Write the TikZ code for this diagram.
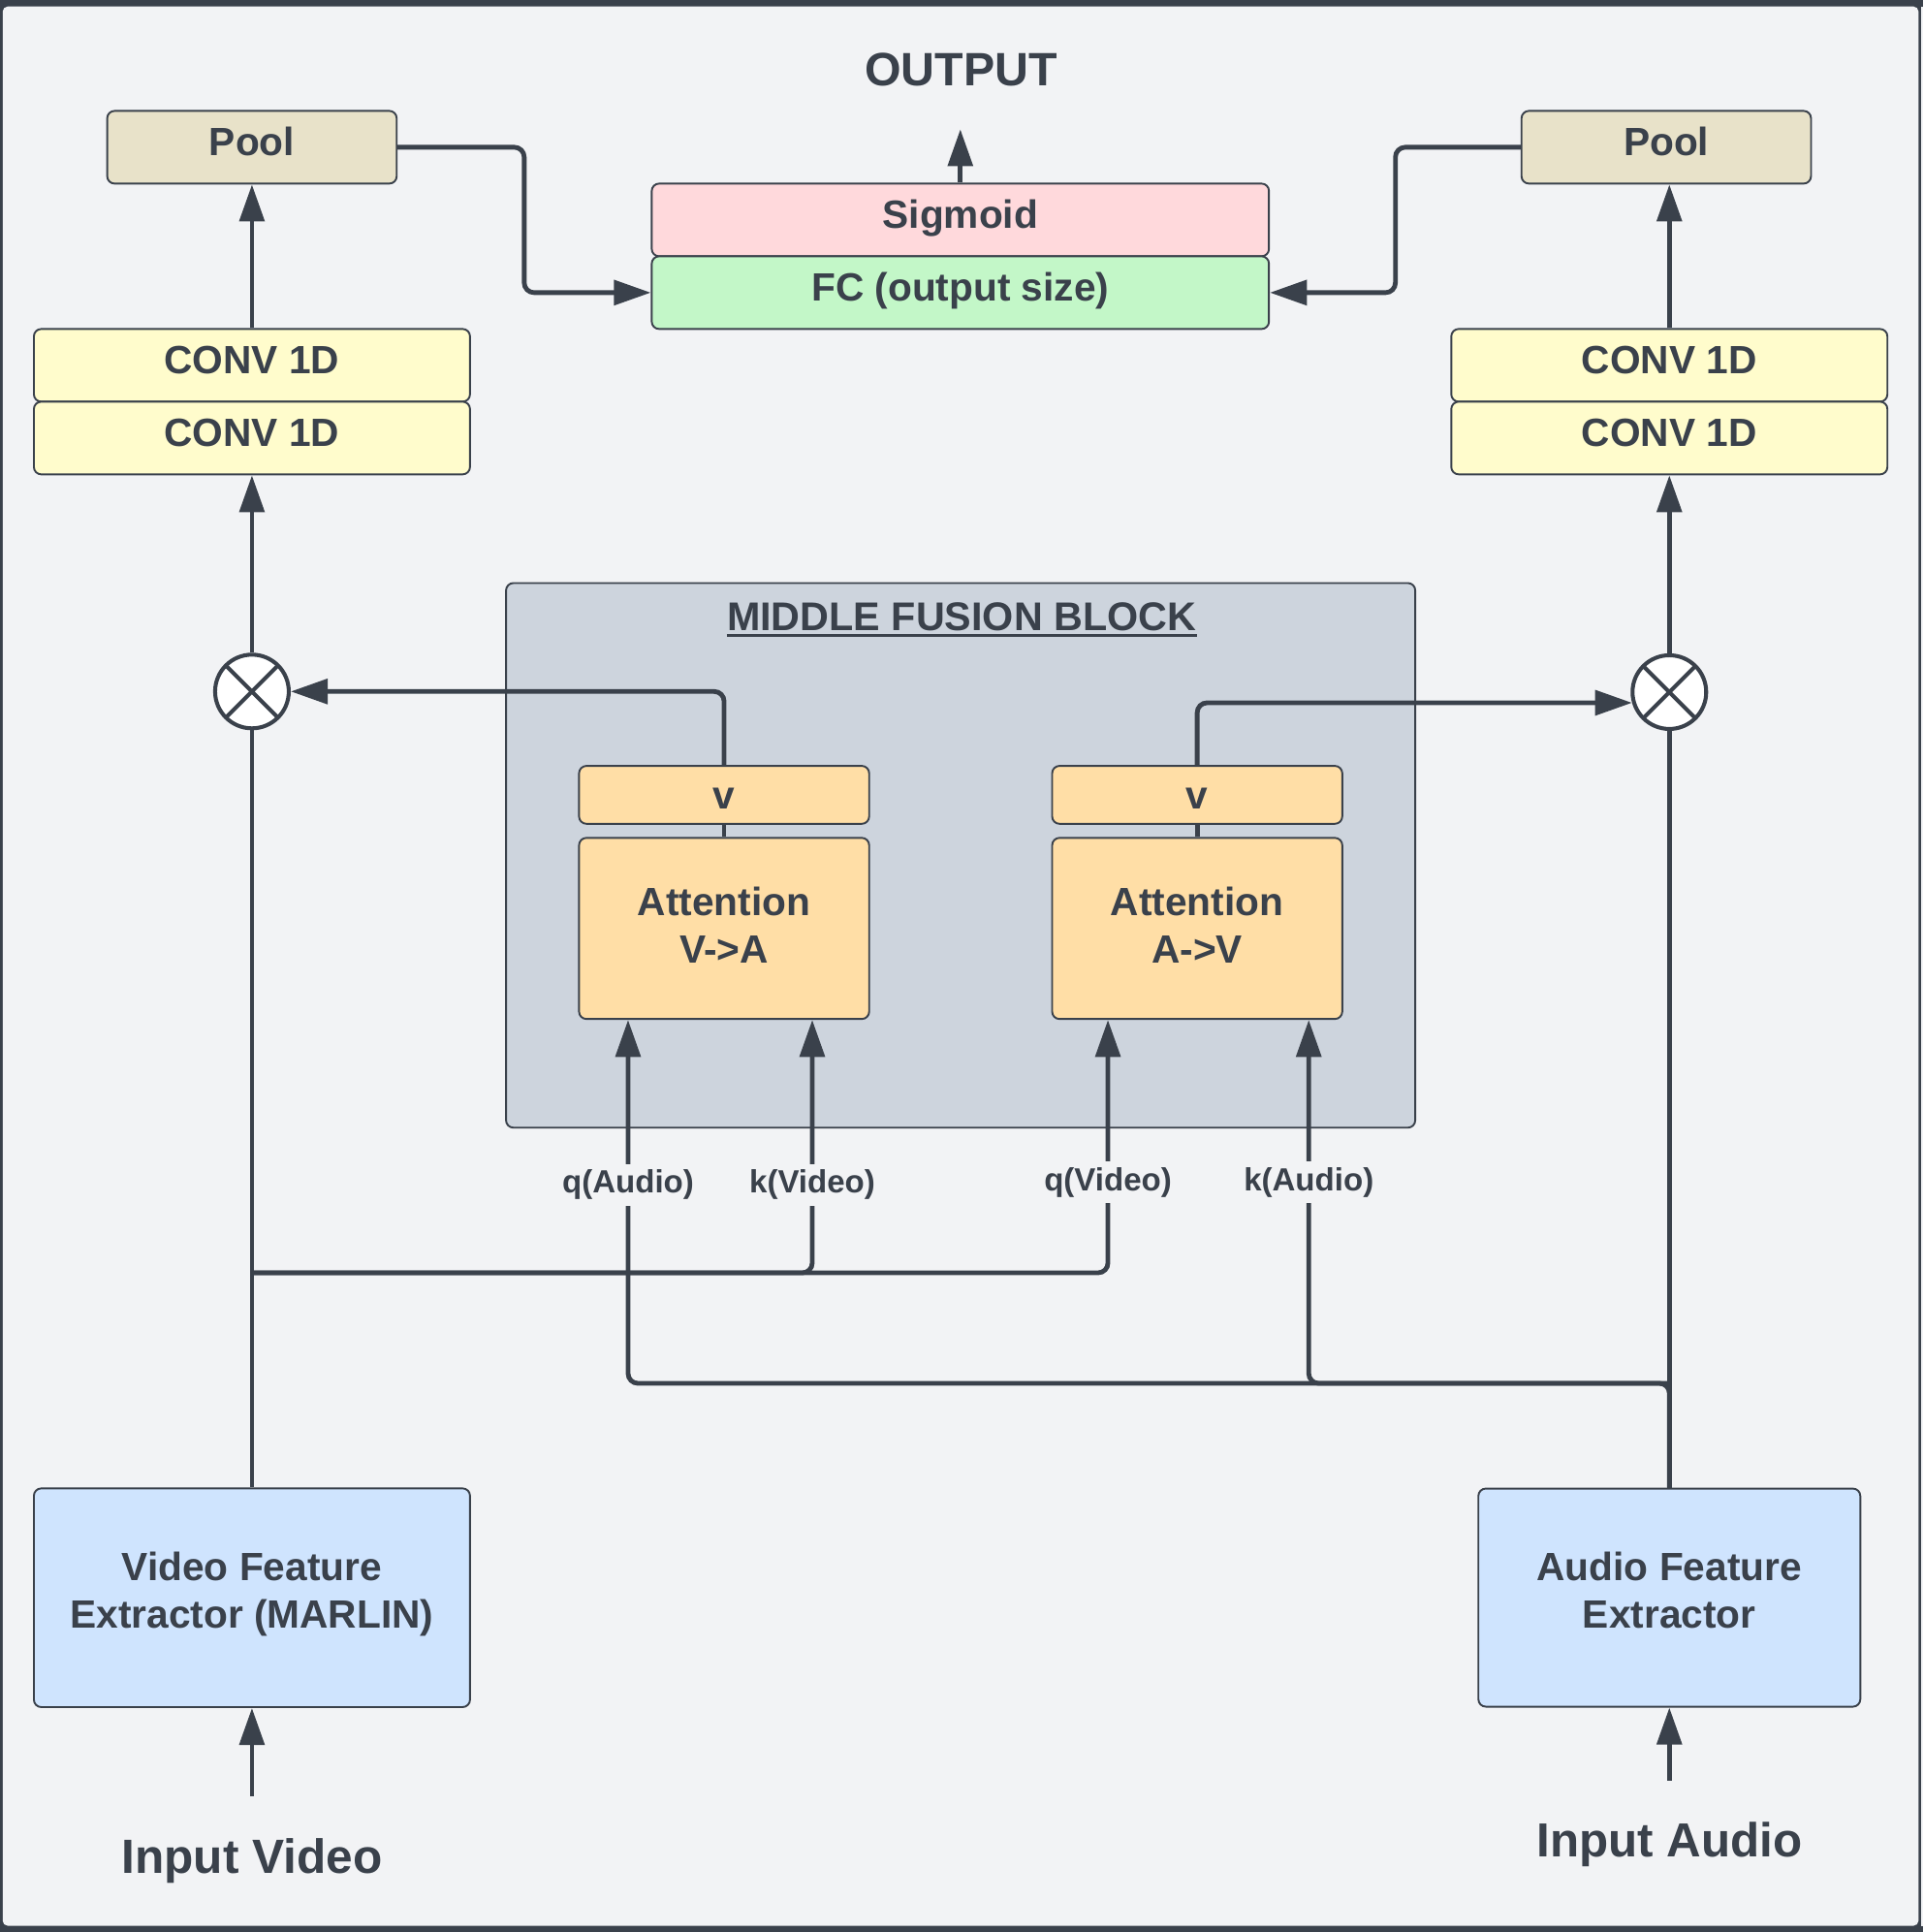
\documentclass[tikz,border=0pt]{standalone}
\usepackage{fontspec}
\setmainfont{Liberation Sans}
\usetikzlibrary{arrows.meta,calc}
\definecolor{ink}{HTML}{3A414B}
\definecolor{bg}{HTML}{F2F3F5}
\definecolor{poolc}{HTML}{E8E2C9}
\definecolor{sigc}{HTML}{FFD9DC}
\definecolor{fcc}{HTML}{C3F7C8}
\definecolor{convc}{HTML}{FFFCCC}
\definecolor{mfbc}{HTML}{CDD4DD}
\definecolor{attc}{HTML}{FFDEA6}
\definecolor{extc}{HTML}{CFE4FE}
\begin{document}
\begin{tikzpicture}[x=1pt,y=-1pt,
  box/.style={draw=ink, line width=1.5pt, rounded corners=6pt, inner sep=0pt,
    font=\fontsize{32}{38.6}\selectfont\bfseries, text=ink, align=center,
    text height=23pt, text depth=9pt},
  conn/.style={draw=ink, line width=3.8pt},
  arr/.style={conn, -{Triangle[length=30pt,width=20pt]}},
  rc/.style={rounded corners=8pt},
  mul/.style={circle, draw=ink, line width=3.2pt, fill=white, minimum size=59.8pt, inner sep=0pt,
    path picture={\draw[ink, line width=3.2pt]
      (path picture bounding box.north east) -- (path picture bounding box.south west)
      (path picture bounding box.north west) -- (path picture bounding box.south east);}},
  lbl/.style={fill=bg, text=ink, font=\fontsize{26}{30}\selectfont\bfseries,
    inner xsep=2pt, inner ysep=5pt, anchor=base},
  big/.style={text=ink, inner sep=0pt, anchor=base}
]
\useasboundingbox (0,0) rectangle (1561,1568);
% frame
\fill[ink] (0,0) rectangle (1561,1568);
\fill[bg] (1559.2,5.3) rectangle (1561,1562.9);
\fill[bg, rounded corners=4pt] (2.2,5.3) rectangle (1557.2,1562.9);

% middle fusion block
\node[draw=ink, fill=mfbc, line width=1.5pt, rounded corners=6pt, minimum width=738pt, minimum height=442pt, inner sep=0pt] (mfb) at (779.75,694.2) {};
\node[big, font=\fontsize{32.5}{38}\selectfont\bfseries] (mfbt) at (780.6,511.5) {MIDDLE FUSION BLOCK};
\draw[ink, line width=2.4pt] ([yshift=-4pt]mfbt.base west) -- ([yshift=-4pt]mfbt.base east);

% top
\node[big, font=\fontsize{38}{44}\selectfont\bfseries] (out) at (780,69.3) {OUTPUT};
\coordinate (outtip) at (779.5,104.9);
\node[box, fill=poolc, minimum width=235pt, minimum height=59pt] (poolL) at (204.5,119.5) {Pool};
\node[box, fill=poolc, minimum width=235pt, minimum height=59pt] (poolR) at (1352.5,119.5) {Pool};
\node[box, fill=sigc, minimum width=501pt, minimum height=59pt] (sig) at (779.5,178.5) {Sigmoid};
\node[box, fill=fcc, minimum width=501pt, minimum height=59pt] (fc) at (779.5,237.5) {FC (output size)};

% conv stacks
\node[box, fill=convc, minimum width=354pt, minimum height=59pt] (convLa) at (204.5,296.5) {CONV 1D};
\node[box, fill=convc, minimum width=354pt, minimum height=59pt] (convLb) at (204.5,355.5) {CONV 1D};
\node[box, fill=convc, minimum width=354pt, minimum height=59pt] (convRa) at (1355,296.5) {CONV 1D};
\node[box, fill=convc, minimum width=354pt, minimum height=59pt] (convRb) at (1355,355.5) {CONV 1D};

% multipliers
\node[mul] (mulL) at (204.5,561.2) {};
\node[mul] (mulR) at (1355,561.7) {};

% attention
\node[box, fill=attc, minimum width=235.5pt, minimum height=47pt, text depth=0pt] (vL) at (587.75,645.1) {v};
\node[box, fill=attc, minimum width=235.5pt, minimum height=47pt, text depth=0pt] (vR) at (971.75,645.1) {v};
\node[box, fill=attc, minimum width=235.5pt, minimum height=147pt, text height=64.8pt] (attnL) at (587.75,753.5) {Attention\\V->A};
\node[box, fill=attc, minimum width=235.5pt, minimum height=147pt, text height=64.8pt] (attnR) at (971.75,753.5) {Attention\\A->V};

% extractors
\node[box, fill=extc, minimum width=354pt, minimum height=177.5pt, text height=58.8pt] (ve) at (204.5,1296.7) {Video Feature\\Extractor (MARLIN)};
\node[box, fill=extc, minimum width=310pt, minimum height=177pt, text height=58.8pt] (ae) at (1355,1296.6) {Audio Feature\\Extractor};

% inputs
\node[big, font=\fontsize{39}{45}\selectfont\bfseries] (inV) at (204.5,1520.5) {Input Video};
\node[big, font=\fontsize{38.8}{45}\selectfont\bfseries] (inA) at (1355,1507) {Input Audio};
\coordinate (inVt) at (204.5,1458);
\coordinate (inAt) at (1355,1445);

% connectors
\draw[arr] (sig.north) -- (outtip);
\draw[arr] (convLa.north) -- (convLa.north |- poolL.south);
\draw[arr] (convRa.north) -- (convRa.north |- poolR.south);
\draw[arr, rc] (poolL.east) -- ++(102.75,0) |- (fc.west);
\draw[arr, rc] (poolR.west) -- ++(-101.6,0) |- (fc.east);
\draw[arr] (mulL.north) -- (convLb.south);
\draw[arr] (mulR.north) -- (convRb.south);
\draw[conn] (ve.north) -- (mulL.south);
\draw[conn] (ae.north) -- (mulR.south);
\draw[arr, rc] (vL.north) |- (mulL.east);
\draw[arr, rc] (vR.north) |- (mulR.196);
\draw[conn] (vL.south) -- (attnL.north);
\draw[conn] (vR.south) -- (attnR.north);

\coordinate (vj) at (204.5,1033);
\coordinate (aj) at (1355,1122.7);
\draw[arr, rc] (vj) -| (659.3,0 |- attnL.south);
\draw[arr, rc] (vj) -| (899.3,0 |- attnR.south);
\draw[arr, rc] (ae.north) -- (aj) -| (509.8,0 |- attnL.south);
\draw[arr, rc] (aj) -| (1062.3,0 |- attnR.south);

\draw[arr] (inVt) -- (ve.south);
\draw[arr] (inAt) -- (ae.south);

% labels
\node[lbl] (lqa) at (509.8,968.4) {q(Audio)};
\node[lbl] (lkv) at (659.3,968.4) {k(Video)};
\node[lbl] (lqv) at (899.3,966.2) {q(Video)};
\node[lbl] (lka) at (1062.3,966.2) {k(Audio)};
\end{tikzpicture}
\end{document}
